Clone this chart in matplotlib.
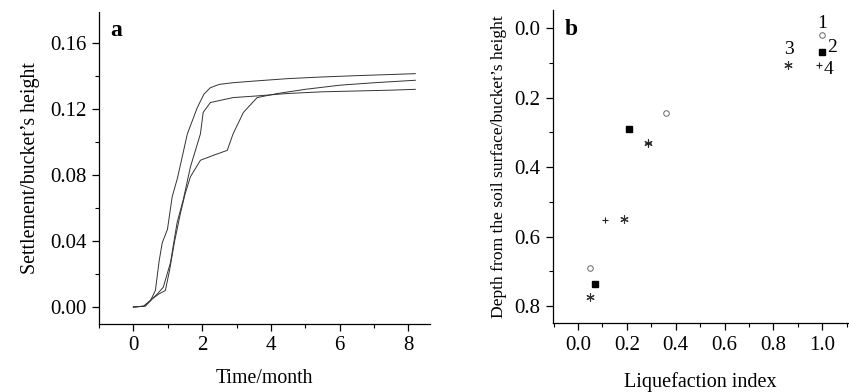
import matplotlib
matplotlib.use("Agg")
import matplotlib.pyplot as plt
from matplotlib.ticker import MultipleLocator

plt.rcParams['font.family'] = ['Liberation Serif', 'DejaVu Serif']
plt.rcParams['mathtext.fontset'] = 'stix'

# Panel a: settlement curves
t_a = [0, 0.3, 0.5, 0.64, 0.75, 0.84, 0.99, 1.13, 1.28, 1.57, 1.86, 2.05, 2.24, 2.5, 2.9, 3.5, 4.5, 5.5, 6.5, 7.5, 8.2]
v_a = [0, 0.0005, 0.004, 0.010, 0.028, 0.039, 0.047, 0.067, 0.078, 0.105, 0.121, 0.129, 0.133, 0.135, 0.136, 0.137, 0.1385, 0.1395, 0.1403, 0.141, 0.1415]

t_b = [0, 0.3, 0.5, 0.7, 0.87, 1.08, 1.27, 1.45, 1.66, 1.95, 2.03, 2.24, 2.9, 3.6, 4.5, 5.5, 6.5, 7.5, 8.2]
v_b = [0, 0.0005, 0.004, 0.008, 0.012, 0.027, 0.051, 0.065, 0.085, 0.105, 0.118, 0.124, 0.127, 0.128, 0.1295, 0.1305, 0.131, 0.1315, 0.132]

t_c = [0, 0.35, 0.55, 0.75, 0.93, 1.05, 1.2, 1.37, 1.51, 1.66, 1.95, 2.33, 2.73, 2.9, 3.2, 3.6, 4.2, 5.0, 6.0, 7.0, 8.2]
v_c = [0, 0.0005, 0.005, 0.008, 0.010, 0.022, 0.040, 0.057, 0.069, 0.079, 0.089, 0.092, 0.095, 0.105, 0.118, 0.127, 0.1295, 0.132, 0.1345, 0.136, 0.1375]

# Panel b: liquefaction index vs depth
li_1 = [1.0, 0.36, 0.05]
d_1 = [0.02, 0.245, 0.69]
li_2 = [1.0, 0.21, 0.07]
d_2 = [0.068, 0.29, 0.737]
li_3 = [0.86, 0.285, 0.19, 0.05]
d_3 = [0.105, 0.33, 0.55, 0.773]
li_4 = [0.985, 0.285, 0.11]
d_4 = [0.107, 0.33, 0.553]

fig = plt.figure(figsize=(8.49, 3.92), dpi=100)
ax1 = fig.add_axes([0.1166, 0.1735, 0.39, 0.7955])
ax2 = fig.add_axes([0.6514, 0.176, 0.347, 0.7985])

lc = '#333333'
for t, v in [(t_a, v_a), (t_b, v_b), (t_c, v_c)]:
    ax1.plot(t, v, color=lc, lw=0.7)

ax1.set_xlim(-1.0, 8.63)
ax1.set_ylim(-0.0103, 0.1788)
ax1.xaxis.set_major_locator(MultipleLocator(2))
ax1.xaxis.set_minor_locator(MultipleLocator(1))
ax1.yaxis.set_major_locator(MultipleLocator(0.04))
ax1.yaxis.set_minor_locator(MultipleLocator(0.02))
ax1.set_yticks([0.0, 0.04, 0.08, 0.12, 0.16])
ax1.set_yticklabels(['0.00', '0.04', '0.08', '0.12', '0.16'])
ax1.set_xlabel('Time/month', fontsize=14.3, labelpad=10)
ax1.set_ylabel('Settlement/bucket\u2019s height', fontsize=14.3, labelpad=7)
ax1.text(0.035, 0.975, 'a', transform=ax1.transAxes, fontsize=17, fontweight='bold', va='top', ha='left')

ax2.plot(li_1, d_1, linestyle='none', marker='o', ms=4, mfc='none', mec='#666666', mew=0.7)
ax2.plot(li_2, d_2, linestyle='none', marker='s', ms=4, mfc='black', mec='black')
ax2.plot(li_3, d_3, linestyle='none', marker=(6, 2, 0), ms=6, color='#333333', mew=0.8)
ax2.plot(li_4, d_4, linestyle='none', marker='+', ms=5, color='#222222', mew=0.8)

ax2.text(1.0, -0.014, '1', fontsize=14, ha='center', va='center')
ax2.text(1.02, 0.055, '2', fontsize=14, ha='left', va='center')
ax2.text(0.865, 0.063, '3', fontsize=14, ha='center', va='center')
ax2.text(1.005, 0.12, '4', fontsize=14, ha='left', va='center')

ax2.set_xlim(-0.102, 1.104)
ax2.set_ylim(0.849, -0.052)
ax2.xaxis.set_major_locator(MultipleLocator(0.2))
ax2.xaxis.set_minor_locator(MultipleLocator(0.1))
ax2.yaxis.set_major_locator(MultipleLocator(0.2))
ax2.yaxis.set_minor_locator(MultipleLocator(0.1))
ax2.set_xticks([0.0, 0.2, 0.4, 0.6, 0.8, 1.0])
ax2.set_xticklabels(['0.0', '0.2', '0.4', '0.6', '0.8', '1.0'])
ax2.set_yticks([0.0, 0.2, 0.4, 0.6, 0.8])
ax2.set_yticklabels(['0.0', '0.2', '0.4', '0.6', '0.8'])
ax2.set_xlabel('Liquefaction index', fontsize=14.5, labelpad=13)
ax2.set_ylabel('Depth from the soil surface/bucket\u2019s height', fontsize=12.6, labelpad=5)
ax2.text(0.04, 0.97, 'b', transform=ax2.transAxes, fontsize=17, fontweight='bold', va='top', ha='left')

for ax in (ax1, ax2):
    ax.spines['top'].set_visible(False)
    ax.spines['right'].set_visible(False)
    ax.tick_params(axis='both', which='major', direction='out', length=5, width=0.9, labelsize=15, pad=4)
    ax.tick_params(axis='both', which='minor', direction='out', length=3, width=0.8)
    for s in ('left', 'bottom'):
        ax.spines[s].set_linewidth(0.9)

fig.savefig('out.png', dpi=100)
